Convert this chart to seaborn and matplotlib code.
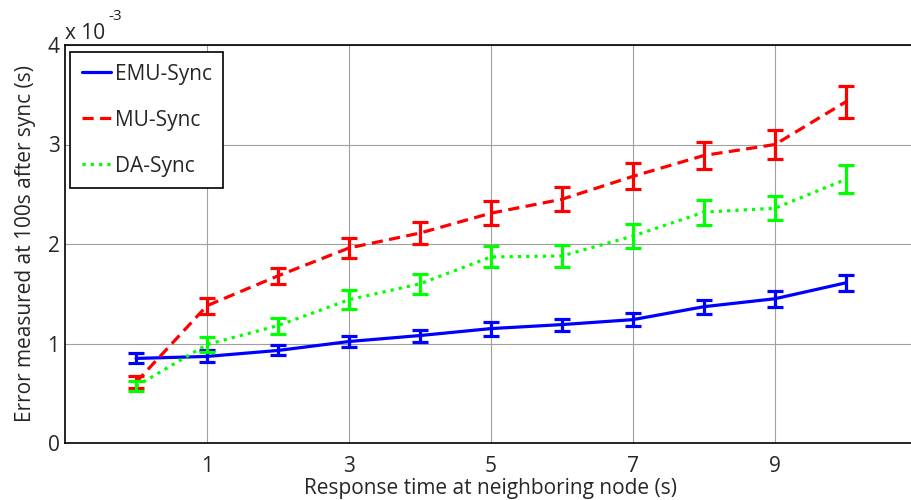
import numpy as np
import pandas as pd
import matplotlib
matplotlib.use("Agg")
import matplotlib.pyplot as plt
import seaborn as sns

# response time (s) and error values (in units of 1e-3 s)
response_time = [0, 1, 2, 3, 4, 5, 6, 7, 8, 9, 10]
emu_mean = [0.85, 0.87, 0.93, 1.02, 1.08, 1.15, 1.19, 1.24, 1.37, 1.45, 1.61]
emu_err = [0.05, 0.06, 0.05, 0.06, 0.06, 0.07, 0.06, 0.065, 0.07, 0.08, 0.08]
mu_mean = [0.61, 1.38, 1.68, 1.96, 2.11, 2.31, 2.45, 2.68, 2.89, 3.00, 3.43]
mu_err = [0.06, 0.08, 0.08, 0.10, 0.11, 0.12, 0.12, 0.13, 0.14, 0.15, 0.16]
da_mean = [0.57, 0.99, 1.18, 1.44, 1.60, 1.87, 1.88, 2.08, 2.32, 2.36, 2.65]
da_err = [0.05, 0.08, 0.08, 0.095, 0.10, 0.105, 0.11, 0.12, 0.125, 0.12, 0.14]

series_names = ["EMU-Sync", "MU-Sync", "DA-Sync"]
colors = ["#0000ff", "#ff0000", "#00ff00"]
styles = ["-", (0, (3.5, 2)), (0, (1, 1.6))]

sns.set_style("white")
plt.rcParams['font.family'] = ['Open Sans', 'DejaVu Sans']
plt.rcParams['font.size'] = 15

fig = plt.figure(figsize=(9.12, 5.0), dpi=100)
ax = fig.add_axes([65 / 912, 57 / 500, 852 / 912, 398 / 500])

means = [emu_mean, mu_mean, da_mean]
errs = [emu_err, mu_err, da_err]
for name, m, e, c, ls in zip(series_names, means, errs, colors, styles):
    df = pd.DataFrame({"x": response_time, "y": m})
    sns.lineplot(data=df, x="x", y="y", ax=ax, color=c, linewidth=2.3,
                 linestyle=ls, label=name, zorder=3)
    ax.errorbar(response_time, m, yerr=e, fmt="none", ecolor=c,
                elinewidth=2.3, capsize=5.5, capthick=2.3, zorder=3)

ax.set_xlim(-1, 11)
ax.set_ylim(0, 4)
ax.set_xticks([1, 3, 5, 7, 9])
ax.set_yticks([0, 1, 2, 3, 4])
ax.grid(True, color="#a0a0a0", linewidth=0.8)
ax.tick_params(direction="in", length=4, color="#333333", labelsize=15)
ax.tick_params(axis="x", pad=9)
ax.tick_params(axis="y", pad=4)
for s in ax.spines.values():
    s.set_color("black")
    s.set_linewidth(1.2)

ax.set_xlabel("Response time at neighboring node (s)", fontsize=15, labelpad=1)
ax.set_ylabel("Error measured at 100s after sync (s)", fontsize=15, labelpad=8)

fig.text(65 / 912, 1 - 33 / 500, "x 10", fontsize=15, va="center", ha="left")
fig.text(108 / 912, 1 - 16 / 500, "-3", fontsize=11, va="center", ha="left")

leg = ax.legend(loc="upper left", bbox_to_anchor=(0.006, 0.982), frameon=True,
                fancybox=False, edgecolor="black", framealpha=1,
                handlelength=1.4, labelspacing=1.2, borderpad=0.55,
                handletextpad=0.2, borderaxespad=0, fontsize=15)
leg.get_frame().set_linewidth(1.2)

fig.savefig("out.png", dpi=100)
